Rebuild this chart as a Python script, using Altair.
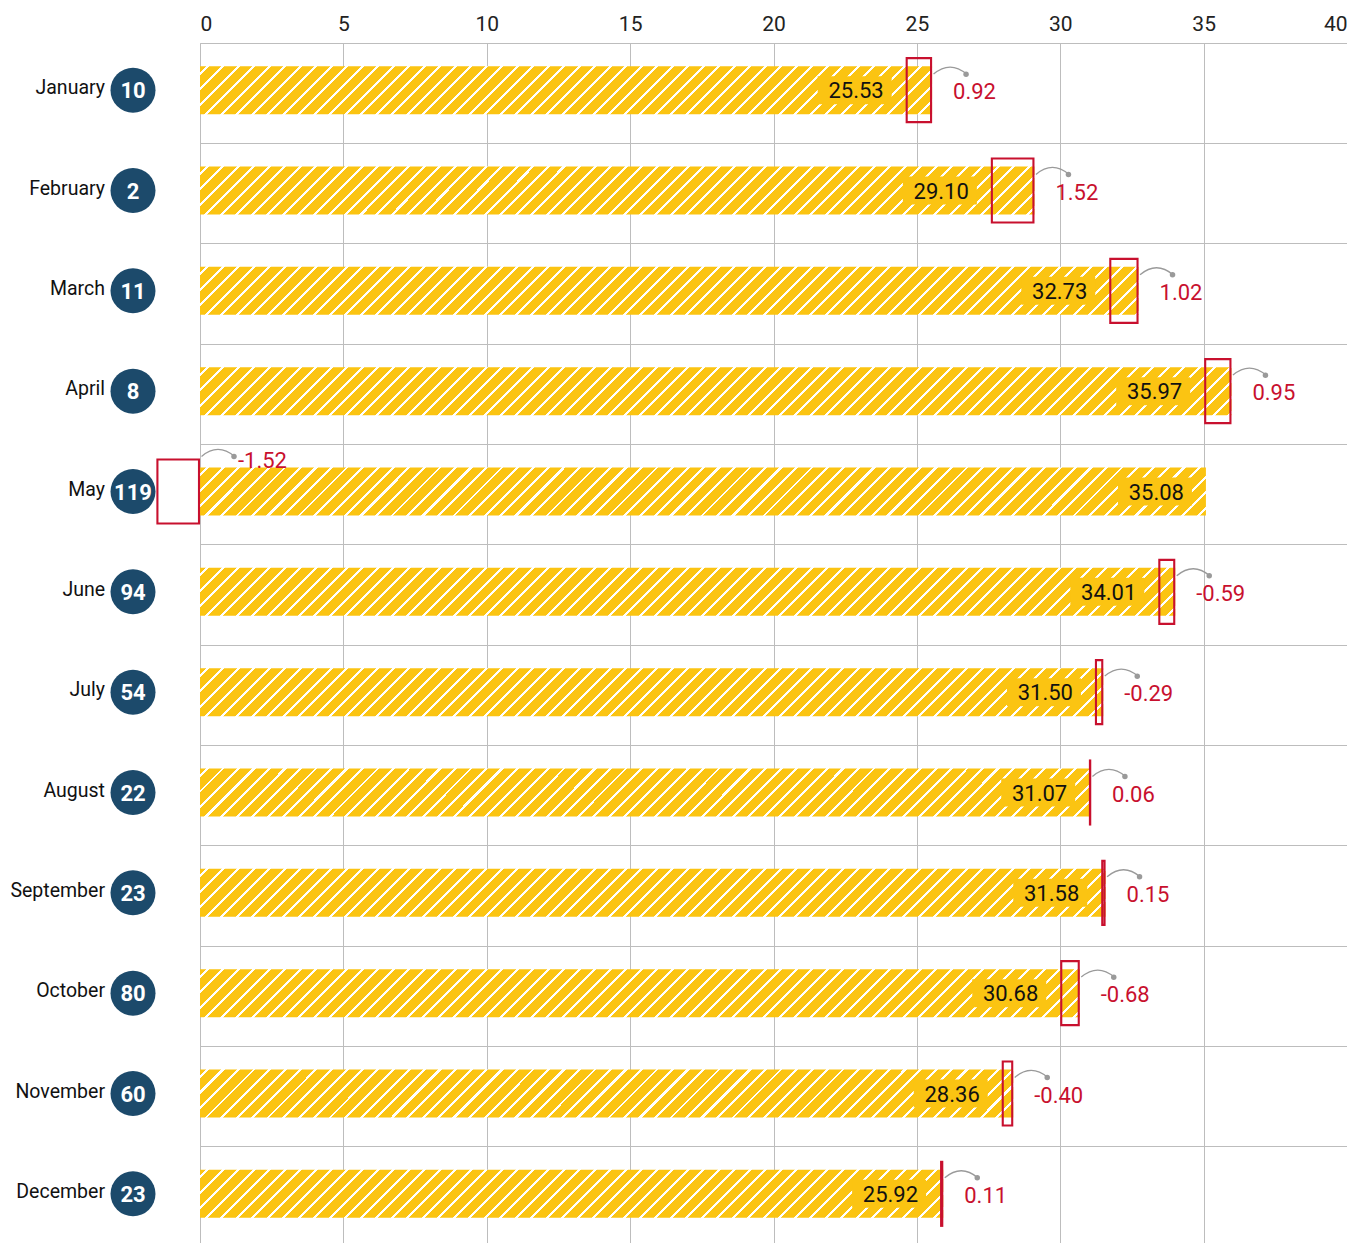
import altair as alt
import pandas as pd

months = ["January", "February", "March", "April", "May", "June", "July",
          "August", "September", "October", "November", "December"]
counts = [10, 2, 11, 8, 119, 94, 54, 22, 23, 80, 60, 23]
values = [25.53, 29.10, 32.73, 35.97, 35.08, 34.01, 31.50, 31.07, 31.58, 30.68, 28.36, 25.92]
deltas = [0.92, 1.52, 1.02, 0.95, -1.52, -0.59, -0.29, 0.06, 0.15, -0.68, -0.40, 0.11]
# change boxes
box_lo = [24.61, 27.58, 31.71, 35.02, -1.52, 33.42, 31.21, 31.01, 31.43, 30.00, 27.96, 25.81]
box_hi = [25.53, 29.10, 32.73, 35.97, 0.00, 34.01, 31.50, 31.07, 31.58, 30.68, 28.36, 25.92]
x_ticks = [0, 5, 10, 15, 20, 25, 30, 35, 40]

FONT = "Roboto, sans-serif"
YELLOW = "#FBC412"
RED = "#C8102E"
NAVY = "#1C4A6B"
GRID = "#BDBDBD"
CONN = "#9A9A9A"

W_PLOT = 1147
H_PLOT = 1204
BAR_H = 48
BOX_H = 64
ROW_SHIFT = -3

df = pd.DataFrame({
    "month": months,
    "count": [str(c) for c in counts],
    "value": values,
    "delta": deltas,
    "box_lo": box_lo,
    "box_hi": box_hi,
})
df["vlabel"] = [f"{v:.2f}" for v in values]
df["dlabel"] = [f"{d:.2f}" for d in deltas]
df["lift"] = [hi < v - 0.001 for hi, v in zip(box_hi, values)]
# value labels sit just left of the change box (or of the bar end if the box is elsewhere)
df["vanchor"] = [lo if not lf else v for lo, v, lf in zip(box_lo, values, df["lift"])]

x_scale = alt.Scale(domain=[0, 40], nice=False, zero=False)
y_scale = alt.Scale(domain=months, paddingInner=0, paddingOuter=0)

X = alt.X("value:Q", scale=x_scale, axis=alt.Axis(
    orient="top", values=x_ticks, title=None, ticks=False, domain=True,
    domainColor=GRID, grid=True, gridColor=GRID, gridWidth=1,
    labelFontSize=21, labelFont=FONT, labelColor="#222222", labelPadding=9,
    labelFlush=True))
Y = alt.Y("month:N", scale=y_scale, sort=months, axis=alt.Axis(
    title=None, labels=False, ticks=False, domain=False, grid=True,
    gridColor=GRID, gridWidth=1, bandPosition=0))
YR = alt.Y("month:N", scale=y_scale, sort=months)

base = alt.Chart(df)

px_per_unit = W_PLOT / 40.0


def stripe_gradient(v):
    W = v * px_per_unit
    H = BAR_H
    L = W + H
    s = L * W / (W * W + H * H)
    period = 15.5
    white = 3.0
    stops = [{"offset": 0, "color": YELLOW}]
    pos = 6.0
    while pos + white < L:
        a = round(pos / L, 5)
        b = round((pos + white) / L, 5)
        stops += [{"offset": a, "color": YELLOW}, {"offset": a, "color": "#FFFFFF"},
                  {"offset": b, "color": "#FFFFFF"}, {"offset": b, "color": YELLOW}]
        pos += period
    stops.append({"offset": 1, "color": YELLOW})
    return {"gradient": "linear", "x1": 0, "y1": 0, "x2": round(s, 5),
            "y2": round(s * H / W, 5), "stops": stops}


layers = []
# axes carrier
layers.append(base.mark_bar(size=BAR_H, opacity=0).encode(x=X, y=Y))

for m, v in zip(months, values):
    layers.append(
        base.transform_filter(alt.datum.month == m)
        .mark_bar(size=BAR_H, fill=stripe_gradient(v), yOffset=ROW_SHIFT)
        .encode(x=alt.X("value:Q", scale=x_scale), y=YR)
    )

# value label background
layers.append(base.mark_bar(size=28, color=YELLOW, xOffset=-88, x2Offset=-14,
                            yOffset=ROW_SHIFT).encode(
    x=alt.X("vanchor:Q", scale=x_scale), x2="vanchor:Q", y=YR))
# value labels
layers.append(base.mark_text(align="right", baseline="middle", dx=-22, dy=ROW_SHIFT + 1,
                             fontSize=22, font=FONT, color="#111111").encode(
    x=alt.X("vanchor:Q", scale=x_scale), y=YR, text="vlabel:N"))

# change boxes (stroke kept inside the box outline)
layers.append(base.mark_bar(size=BOX_H, fillOpacity=0, stroke=RED, strokeWidth=2.1,
                            xOffset=1, x2Offset=-1, yOffset=ROW_SHIFT).encode(
    x=alt.X("box_lo:Q", scale=x_scale), x2="box_hi:Q", y=YR))

ARC = "M -1 0.3 Q 0 -0.55 1 0.3"
for lifted, arc_lift, lab_lift, ldx in [(False, 0, 0, 21), (True, -19, -33, 38)]:
    sub = base.transform_filter(alt.datum.lift == lifted)
    layers.append(sub.mark_point(shape=ARC, size=1089, filled=False, stroke=CONN,
                                 strokeWidth=1.3, opacity=1, xOffset=18,
                                 yOffset=ROW_SHIFT - 21 + arc_lift).encode(
        x=alt.X("box_hi:Q", scale=x_scale), y=YR))
    layers.append(sub.mark_point(shape="circle", size=30, filled=True, color=CONN, opacity=1,
                                 xOffset=34, yOffset=ROW_SHIFT - 16 + arc_lift).encode(
        x=alt.X("box_hi:Q", scale=x_scale), y=YR))
    layers.append(sub.mark_text(align="left", baseline="middle", dx=ldx,
                                dy=ROW_SHIFT + 2 + lab_lift,
                                fontSize=22, font=FONT, color=RED).encode(
        x=alt.X("box_hi:Q", scale=x_scale), y=YR, text="dlabel:N"))

# month labels and count badges
layers.append(base.mark_text(align="right", baseline="middle", dy=ROW_SHIFT - 2, fontSize=19.5,
                             font=FONT, color="#111111").encode(
    x=alt.value(-95), y=YR, text="month:N"))
layers.append(base.mark_point(shape="circle", size=2025, filled=True, color=NAVY, opacity=1,
                              yOffset=ROW_SHIFT).encode(
    x=alt.value(-67), y=YR))
layers.append(base.mark_text(align="center", baseline="middle", dy=ROW_SHIFT + 1, fontSize=22,
                             fontWeight="bold", font=FONT, color="#FFFFFF").encode(
    x=alt.value(-67), y=YR, text="count:N"))

chart = alt.layer(*layers).properties(
    width=W_PLOT, height=H_PLOT,
    autosize=alt.AutoSizeParams(type="none"),
    padding={"left": 192, "top": 35, "right": 0, "bottom": 0},
).configure_view(stroke=None).configure(background="white")

chart.save("out.html", embed_options={"renderer": "svg", "actions": False})
